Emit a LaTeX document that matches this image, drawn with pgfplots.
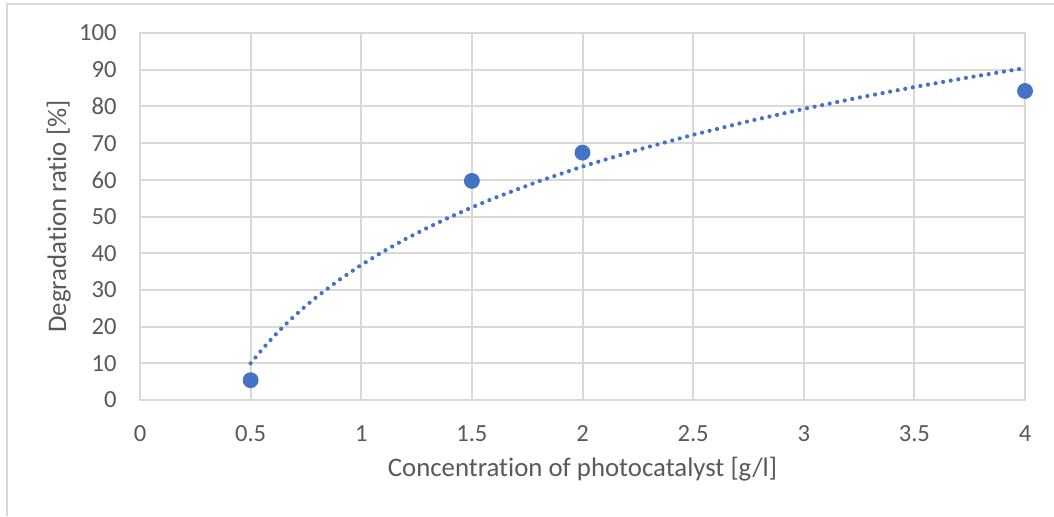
\documentclass[border=0pt]{standalone}
\usepackage{fontspec}
\setmainfont{Carlito}[Ligatures={NoCommon}]
\usepackage{pgfplots}
\pgfplotsset{compat=1.18}
\definecolor{gridgray}{HTML}{D9D9D9}
\definecolor{txtgray}{HTML}{595959}
\definecolor{xlblue}{HTML}{4472C4}

\begin{document}
\begin{tikzpicture}
% 1 px of the reference = 0.5pt; origin at the lower left of the plot area
\useasboundingbox (-70pt,-58pt) rectangle (457pt,200pt);
\draw[gridgray, line width=0.9pt] (-66.5pt,-58pt) -- (-66.5pt,198pt) -- (457pt,198pt);
\begin{axis}[
    at={(0,0)}, anchor=origin,
    scale only axis,
    width=442.5pt, height=183.5pt,
    xmin=0, xmax=4, ymin=0, ymax=100,
    xtick={0,0.5,...,4}, ytick={0,10,...,100},
    xticklabels={0,0.5,1,1.5,2,2.5,3,3.5,4},
    grid=major,
    grid style={gridgray, line width=1pt},
    axis line style={gridgray, line width=1pt},
    major tick length=0pt,
    tick label style={font=\fontsize{12.3}{14}\selectfont, text=txtgray},
    /pgf/number format/assume math mode=true,
    xticklabel style={inner sep=0pt, anchor=north, yshift=-12.5pt},
    yticklabel style={inner sep=0pt, anchor=east, xshift=-11.5pt},
    xlabel={Concentration of photocatalyst [g/l]},
    ylabel={Degradation ratio [\%]},
    label style={font=\fontsize{13.4}{16}\selectfont, text=txtgray},
    xlabel style={at={(axis description cs:0.5,-0.2071)}, anchor=base, inner sep=0pt},
    ylabel style={at={(axis description cs:-0.0836,0.5)}, anchor=base, inner sep=0pt},
    clip=false,
]
% logarithmic trendline
\addplot[xlblue, line width=2.1pt, line cap=round, dash pattern=on 0pt off 3.85pt] coordinates {
(0.5,9.97) (0.55,13.66) (0.6,17.03) (0.65,20.13) (0.7,23.00) (0.75,25.67) (0.8,28.16) (0.9,32.72)
(1.0,36.80) (1.1,40.49) (1.2,43.86) (1.3,46.95) (1.4,49.82) (1.5,52.49) (1.6,54.99) (1.8,59.55)
(2.0,63.63) (2.25,68.18) (2.5,72.26) (2.75,75.95) (3.0,79.32) (3.25,82.41) (3.5,85.28)
(3.75,87.95) (4.0,90.45)
};
% measured points
\addplot[only marks, mark=*, mark size=3.75pt, mark options={fill=xlblue, draw=xlblue}] coordinates {
(0.5,5.4) (1.5,59.7) (2,67.4) (4,84.2)
};
\end{axis}
\end{tikzpicture}
\end{document}
